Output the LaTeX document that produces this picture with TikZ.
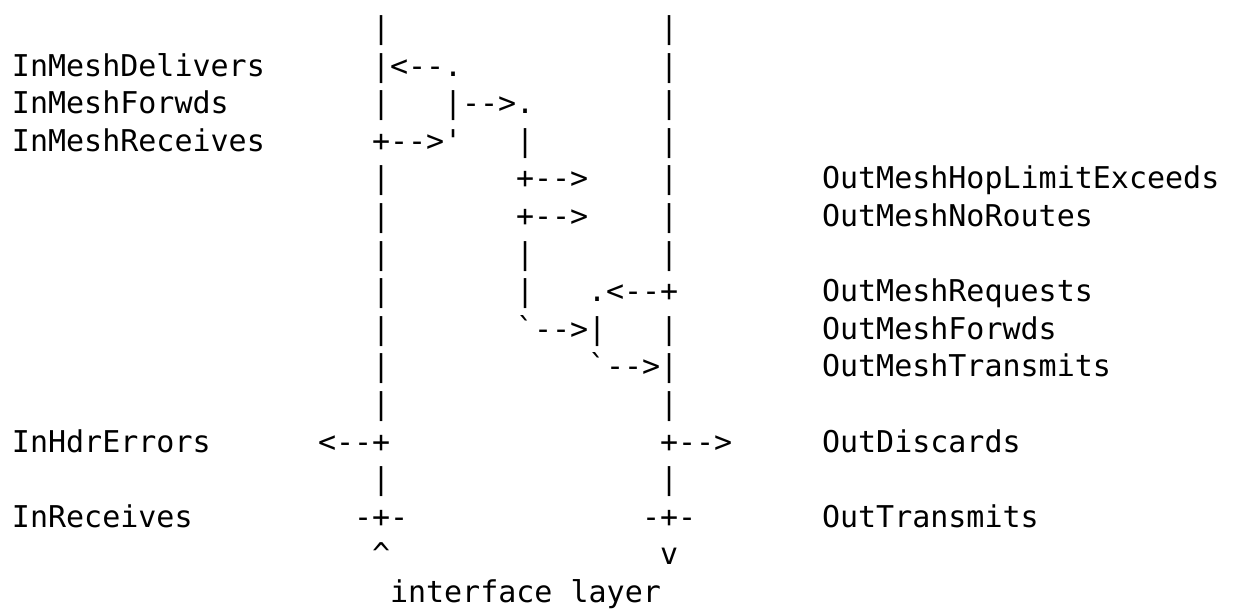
\documentclass[tikz,border=0pt]{standalone}
\usepackage{fontspec}
\setmonofont{DejaVu Sans Mono}
\tikzset{
  asc/.style={anchor=base west, inner sep=0pt, outer sep=0pt,
    font=\ttfamily\fontsize{30pt}{37.6pt}\selectfont, text=black},
}
% character cell: column #2, row #3 of the text grid (18pt x 37.6pt)
\newcommand\gridtxt[4]{\node[asc] (#1) at ({12+18*#2},{38.5+37.6*#3}) {#4};}
\begin{document}
\begin{tikzpicture}[x=1pt,y=-1pt]
  \fill[white] (0,0) rectangle (1234,609);
  \useasboundingbox (0,0) rectangle (1234,609);
  % row 0
  \gridtxt{r0a}{20}{0}{|}
  \gridtxt{r0b}{36}{0}{|}
  % row 1
  \gridtxt{inmeshdel}{0}{1}{InMeshDelivers}
  \gridtxt{r1a}{20}{1}{|<--.}
  \gridtxt{r1b}{36}{1}{|}
  % row 2
  \gridtxt{inmeshfwd}{0}{2}{InMeshForwds}
  \gridtxt{r2a}{20}{2}{|}
  \gridtxt{r2b}{24}{2}{|-->.}
  \gridtxt{r2c}{36}{2}{|}
  % row 3
  \gridtxt{inmeshrcv}{0}{3}{InMeshReceives}
  \gridtxt{r3a}{20}{3}{+-->'}
  \gridtxt{r3b}{28}{3}{|}
  \gridtxt{r3c}{36}{3}{|}
  % row 4
  \gridtxt{r4a}{20}{4}{|}
  \gridtxt{r4b}{28}{4}{+-->}
  \gridtxt{r4c}{36}{4}{|}
  \gridtxt{outhop}{45}{4}{OutMeshHopLimitExceeds}
  % row 5
  \gridtxt{r5a}{20}{5}{|}
  \gridtxt{r5b}{28}{5}{+-->}
  \gridtxt{r5c}{36}{5}{|}
  \gridtxt{outnoroute}{45}{5}{OutMeshNoRoutes}
  % row 6
  \gridtxt{r6a}{20}{6}{|}
  \gridtxt{r6b}{28}{6}{|}
  \gridtxt{r6c}{36}{6}{|}
  % row 7
  \gridtxt{r7a}{20}{7}{|}
  \gridtxt{r7b}{28}{7}{|}
  \gridtxt{r7c}{32}{7}{.<--+}
  \gridtxt{outreq}{45}{7}{OutMeshRequests}
  % row 8
  \gridtxt{r8a}{20}{8}{|}
  \gridtxt{r8b}{28}{8}{`-->|}
  \gridtxt{r8c}{36}{8}{|}
  \gridtxt{outfwd}{45}{8}{OutMeshForwds}
  % row 9
  \gridtxt{r9a}{20}{9}{|}
  \gridtxt{r9b}{32}{9}{`-->|}
  \gridtxt{outtrm}{45}{9}{OutMeshTransmits}
  % row 10
  \gridtxt{r10a}{20}{10}{|}
  \gridtxt{r10b}{36}{10}{|}
  % row 11
  \gridtxt{inhdr}{0}{11}{InHdrErrors}
  \gridtxt{r11a}{17}{11}{<--+}
  \gridtxt{r11b}{36}{11}{+-->}
  \gridtxt{outdisc}{45}{11}{OutDiscards}
  % row 12
  \gridtxt{r12a}{20}{12}{|}
  \gridtxt{r12b}{36}{12}{|}
  % row 13
  \gridtxt{inrcv}{0}{13}{InReceives}
  \gridtxt{r13a}{19}{13}{-+-}
  \gridtxt{r13b}{35}{13}{-+-}
  \gridtxt{outtx}{45}{13}{OutTransmits}
  % row 14
  \gridtxt{r14a}{20}{14}{\textasciicircum}
  \gridtxt{r14b}{36}{14}{v}
  % row 15
  \gridtxt{iflayer}{21}{15}{interface layer}
\end{tikzpicture}
\end{document}
